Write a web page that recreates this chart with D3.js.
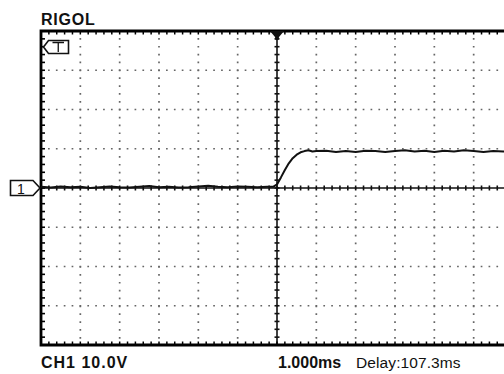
<!DOCTYPE html>
<html>
<head>
<meta charset="utf-8">
<script src="https://cdn.jsdelivr.net/npm/d3@7"></script>
<style>
  html, body { margin: 0; padding: 0; background: #fff; }
  svg { display: block; }
  text { font-family: "Liberation Sans", Arial, sans-serif; fill: #111; }
</style>
</head>
<body>
<svg id="scope" width="504" height="374"></svg>
<script>
// Horizontal divisions (ms relative to trigger) and vertical divisions (V)
const timeDivisions = [-6, -5, -4, -3, -2, -1, 0, 1, 2, 3, 4, 5, 6];
const voltDivisions = [-40, -30, -20, -10, 0, 10, 20, 30, 40];

// CH1 captured waveform: time (ms) and voltage (V)
const traceTime = [
  -6.0, -5.75, -5.5, -5.25, -5.0, -4.75, -4.5, -4.25, -4.0, -3.75, -3.5, -3.25,
  -3.0, -2.75, -2.5, -2.25, -2.0, -1.75, -1.5, -1.25, -1.0, -0.75, -0.5, -0.25,
  -0.1, 0.0, 0.1, 0.2, 0.3, 0.4, 0.5, 0.6, 0.7, 0.8, 0.9, 1.0,
  1.25, 1.5, 1.75, 2.0, 2.25, 2.5, 2.75, 3.0, 3.25, 3.5, 3.75, 4.0,
  4.25, 4.5, 4.75, 5.0, 5.25, 5.5, 5.75, 6.0
];
const traceVolts = [
  0.3, 0.1, 0.4, 0.2, 0.3, 0.0, 0.2, 0.4, 0.2, 0.1, 0.3, 0.5,
  0.2, 0.3, 0.1, 0.2, 0.4, 0.6, 0.3, 0.2, 0.4, 0.3, 0.2, 0.3,
  0.3, 0.9, 2.7, 4.6, 6.3, 7.6, 8.5, 9.1, 9.4, 9.6, 9.3, 9.4,
  9.5, 9.2, 9.4, 9.2, 9.5, 9.4, 9.2, 9.4, 9.6, 9.3, 9.5, 9.2,
  9.5, 9.3, 9.6, 9.4, 9.2, 9.4, 9.3, 9.4
];

// Header and footer readouts
const brandLabel = "RIGOL";
const channelLabel = "CH1 10.0V";
const timebaseLabel = "1.000ms";
const delayLabel = "Delay:107.3ms";

const svg = d3.select("#scope");

const x = d3.scaleLinear().domain([-6, 6]).range([41, 513]);
const y = d3.scaleLinear().domain([-40, 40]).range([345, 31]);

const minorT = d3.range(-6, 6 + 1e-9, 0.2);   // five sub-divisions per division
const minorY = d3.range(-40, 40 + 1e-9, 2);

const screen = svg.append("g");

// Dotted graticule
const dotColor = "#666";
const pitch = (x(1) - x(0)) / 5;
screen.append("g")
  .selectAll("line")
  .data(timeDivisions.filter(d => d !== 0 && Math.abs(d) !== 6))
  .join("line")
  .attr("x1", d => x(d)).attr("x2", d => x(d))
  .attr("y1", y(40)).attr("y2", y(-40))
  .attr("stroke", dotColor)
  .attr("stroke-width", 1.7)
  .attr("stroke-dasharray", `1.7 ${pitch - 1.7}`)
  .attr("stroke-dashoffset", 0.85);

screen.append("g")
  .selectAll("line")
  .data(voltDivisions.filter(d => d !== 0 && Math.abs(d) !== 40))
  .join("line")
  .attr("x1", x(-6)).attr("x2", x(6))
  .attr("y1", d => y(d)).attr("y2", d => y(d))
  .attr("stroke", dotColor)
  .attr("stroke-width", 1.7)
  .attr("stroke-dasharray", `1.7 ${pitch - 1.7}`)
  .attr("stroke-dashoffset", 0.85);

// Center axes with sub-division ticks
const axisG = screen.append("g").attr("stroke", "#111");
axisG.append("line")
  .attr("x1", x(-6)).attr("x2", x(6))
  .attr("y1", y(0)).attr("y2", y(0))
  .attr("stroke-width", 1.6);
axisG.append("line")
  .attr("x1", x(0)).attr("x2", x(0))
  .attr("y1", y(40)).attr("y2", y(-40))
  .attr("stroke-width", 1.6);
axisG.append("g").selectAll("line")
  .data(minorT)
  .join("line")
  .attr("x1", d => x(d)).attr("x2", d => x(d))
  .attr("y1", y(0) - 2.5).attr("y2", y(0) + 2.5)
  .attr("stroke-width", 1.6);
axisG.append("g").selectAll("line")
  .data(minorY)
  .join("line")
  .attr("x1", x(0) - 2.5).attr("x2", x(0) + 2.5)
  .attr("y1", d => y(d)).attr("y2", d => y(d))
  .attr("stroke-width", 1.6);

// Frame with inner sub-division ticks
const frame = screen.append("g").attr("stroke", "#000");
frame.append("path")
  .attr("d", `M${x(6)},${y(40)} H${x(-6)} V${y(-40)} H${x(6)}`)
  .attr("fill", "none")
  .attr("stroke-width", 2.8);
frame.append("g").selectAll("line")
  .data(minorY)
  .join("line")
  .attr("x1", x(-6)).attr("x2", x(-6) + 4)
  .attr("y1", d => y(d)).attr("y2", d => y(d))
  .attr("stroke-width", 1.6);
frame.append("g").selectAll("line")
  .data(minorT)
  .join("line")
  .attr("x1", d => x(d)).attr("x2", d => x(d))
  .attr("y1", y(40)).attr("y2", y(40) + 3.5)
  .attr("stroke-width", 1.5);
frame.append("g").selectAll("line")
  .data(minorT)
  .join("line")
  .attr("x1", d => x(d)).attr("x2", d => x(d))
  .attr("y1", y(-40)).attr("y2", y(-40) - 3.5)
  .attr("stroke-width", 1.5);

// Waveform
const trace = traceTime.map((t, i) => ({ t, v: traceVolts[i] }));
screen.append("path")
  .datum(trace)
  .attr("fill", "none")
  .attr("stroke", "#111")
  .attr("stroke-width", 2)
  .attr("stroke-linejoin", "round")
  .attr("d", d3.line().x(d => x(d.t)).y(d => y(d.v)));

// Trigger position marker on the top edge
const tx = x(0), ty = y(40);
screen.append("path")
  .attr("d", `M${tx - 7},${ty} L${tx + 7},${ty} L${tx + 2},${ty + 6} L${tx + 1.5},${ty + 9} L${tx - 1.5},${ty + 9} L${tx - 2},${ty + 6} Z`)
  .attr("fill", "#111");

// Trigger level marker (top-left)
const mg = svg.append("g");
mg.append("path")
  .attr("d", "M43.5,47 L48.5,40.5 H68.5 V53.5 H48.5 Z")
  .attr("fill", "#fff").attr("stroke", "#111").attr("stroke-width", 1.6);
mg.append("path")
  .attr("d", "M52.5,42.5 H64 M58.25,42.5 V52")
  .attr("stroke", "#111").attr("stroke-width", 1.3);

// Channel 1 ground marker
const gy = y(0);
mg.append("path")
  .attr("d", `M10.5,${gy - 7.5} H33 L40,${gy} L33,${gy + 7.5} H10.5 Z`)
  .attr("fill", "#fff").attr("stroke", "#111").attr("stroke-width", 1.6);
mg.append("text")
  .attr("x", 21).attr("y", gy + 5.5)
  .attr("text-anchor", "middle")
  .attr("font-size", 14)
  .text("1");

// Readouts
svg.append("text")
  .attr("x", 41).attr("y", 25)
  .attr("font-size", 16).attr("font-weight", "bold")
  .attr("letter-spacing", 0.8)
  .text(brandLabel);

svg.append("text")
  .attr("x", 41).attr("y", 368)
  .attr("font-size", 16).attr("font-weight", "bold")
  .attr("letter-spacing", 1)
  .text(channelLabel);

svg.append("text")
  .attr("x", 278).attr("y", 368)
  .attr("font-size", 16).attr("font-weight", "bold")
  .text(timebaseLabel);

svg.append("text")
  .attr("x", 356).attr("y", 368)
  .attr("font-size", 15.5)
  .attr("letter-spacing", 0.1)
  .text(delayLabel);
</script>
</body>
</html>
